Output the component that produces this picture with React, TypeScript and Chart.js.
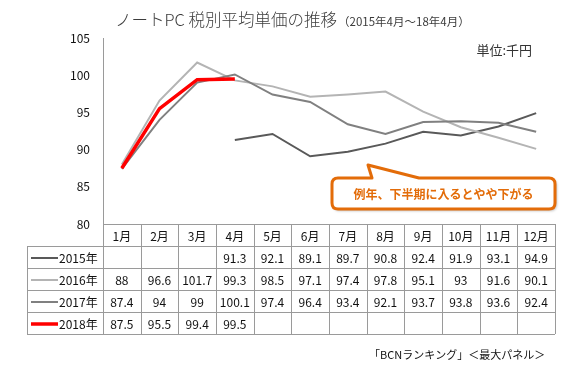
import React, { useEffect, useRef } from "react";
import { Chart, registerables } from "chart.js";
Chart.register(...registerables);

const months = ["1月", "2月", "3月", "4月", "5月", "6月", "7月", "8月", "9月", "10月", "11月", "12月"];
const yearLabels = ["2015年", "2016年", "2017年", "2018年"];
const s2015 = [null, null, null, 91.3, 92.1, 89.1, 89.7, 90.8, 92.4, 91.9, 93.1, 94.9];
const s2016 = [88, 96.6, 101.7, 99.3, 98.5, 97.1, 97.4, 97.8, 95.1, 93, 91.6, 90.1];
const s2017 = [87.4, 94, 99, 100.1, 97.4, 96.4, 93.4, 92.1, 93.7, 93.8, 93.6, 92.4];
const s2018 = [87.5, 95.5, 99.4, 99.5, null, null, null, null, null, null, null, null];
const yMin = 80;
const yMax = 105;
const yStep = 5;
const titleText = "ノートPC 税別平均単価の推移";
const subtitleText = "（2015年4月～18年4月）";
const unitText = "単位:千円";
const noteText = "例年、下半期に入るとやや下がる";
const sourceText = "「BCNランキング」＜最大パネル＞";

const FONT = '"Noto Sans CJK JP", "Noto Sans", sans-serif';
const colors = ["#595959", "#b4b4b4", "#808080", "#ff0000"];
const widths = [2, 2, 2, 3.5];
const series = [s2015, s2016, s2017, s2018];

const overlay = {
  id: "overlay",
  afterDraw(chart: any) {
    const ctx = chart.ctx as CanvasRenderingContext2D;
    const xs = chart.scales.x;
    const area = chart.chartArea;
    ctx.save();
    // title
    ctx.fillStyle = "#3c3c3c";
    ctx.textBaseline = "alphabetic";
    ctx.textAlign = "left";
    ctx.font = `300 16.5px ${FONT}`;
    const tx = 115;
    ctx.fillText(titleText, tx, 26);
    const tw = ctx.measureText(titleText).width;
    ctx.font = `11.5px ${FONT}`;
    ctx.fillText(subtitleText, tx + tw + 1, 26);
    // unit
    ctx.fillStyle = "#333";
    ctx.font = `13px ${FONT}`;
    ctx.textAlign = "right";
    ctx.fillText(unitText, 532, 55);

    // table
    const n = months.length;
    const colW = (xs.right - xs.left) / n;
    const top = area.bottom;
    const rowH = 22;
    const labelLeft = 27;
    const left = xs.left;
    const right = xs.right;
    ctx.strokeStyle = "#9a9a9a";
    ctx.lineWidth = 1;
    ctx.beginPath();
    ctx.moveTo(left, top + 0.5);
    ctx.lineTo(right, top + 0.5);
    for (let r = 1; r <= 5; r++) {
      const y = Math.round(top + r * rowH) + 0.5;
      ctx.moveTo(labelLeft, y);
      ctx.lineTo(right, y);
    }
    for (let c = 0; c <= n; c++) {
      const x = Math.round(xs.getPixelForValue(c) - colW / 2) + 0.5;
      ctx.moveTo(x, top);
      ctx.lineTo(x, top + 5 * rowH);
    }
    ctx.moveTo(labelLeft + 0.5, top + rowH);
    ctx.lineTo(labelLeft + 0.5, top + 5 * rowH);
    ctx.stroke();

    ctx.fillStyle = "#111";
    ctx.font = `12px ${FONT}`;
    ctx.textAlign = "center";
    ctx.textBaseline = "middle";
    months.forEach((m, i) => {
      ctx.fillText(m, xs.getPixelForValue(i), top + rowH / 2 + 1);
    });
    series.forEach((s, r) => {
      const cy = top + rowH * (r + 1) + rowH / 2 + 1;
      ctx.textAlign = "center";
      s.forEach((v, i) => {
        if (v !== null) ctx.fillText(String(v), xs.getPixelForValue(i), cy);
      });
      ctx.strokeStyle = colors[r];
      ctx.lineWidth = widths[r];
      ctx.beginPath();
      ctx.moveTo(31, cy);
      ctx.lineTo(58, cy);
      ctx.stroke();
      ctx.textAlign = "left";
      ctx.fillText(yearLabels[r], 59, cy);
    });

    // callout
    const bx = 332, by = 178, bw = 223, bh = 31, rad = 6;
    ctx.save();
    ctx.shadowColor = "rgba(0,0,0,0.35)";
    ctx.shadowBlur = 3;
    ctx.shadowOffsetX = 1.5;
    ctx.shadowOffsetY = 1.5;
    ctx.beginPath();
    ctx.moveTo(bx + rad, by);
    ctx.lineTo(372, by);
    ctx.lineTo(368, 165);
    ctx.lineTo(419, by);
    ctx.lineTo(bx + bw - rad, by);
    ctx.quadraticCurveTo(bx + bw, by, bx + bw, by + rad);
    ctx.lineTo(bx + bw, by + bh - rad);
    ctx.quadraticCurveTo(bx + bw, by + bh, bx + bw - rad, by + bh);
    ctx.lineTo(bx + rad, by + bh);
    ctx.quadraticCurveTo(bx, by + bh, bx, by + bh - rad);
    ctx.lineTo(bx, by + rad);
    ctx.quadraticCurveTo(bx, by, bx + rad, by);
    ctx.closePath();
    ctx.fillStyle = "#ffffff";
    ctx.fill();
    ctx.restore();
    ctx.strokeStyle = "#e36c09";
    ctx.lineWidth = 3;
    ctx.lineJoin = "round";
    ctx.stroke();
    ctx.fillStyle = "#e36c09";
    ctx.font = `bold 12px ${FONT}`;
    ctx.textAlign = "center";
    ctx.textBaseline = "middle";
    ctx.fillText(noteText, bx + bw / 2, by + bh / 2 + 1);

    // source
    ctx.fillStyle = "#111";
    ctx.font = `11px ${FONT}`;
    ctx.textAlign = "left";
    ctx.fillText(sourceText, 369, 355);
    ctx.restore();
  },
};

export default function App() {
  const ref = useRef<HTMLCanvasElement>(null);
  useEffect(() => {
    document.body.style.margin = "0";
    const chart = new Chart(ref.current as HTMLCanvasElement, {
      type: "line",
      data: {
        labels: months,
        datasets: series.map((s, i) => ({
          label: yearLabels[i],
          data: s,
          borderColor: colors[i],
          backgroundColor: colors[i],
          borderWidth: widths[i],
          pointRadius: 0,
          tension: 0,
          spanGaps: false,
          order: 3 - i,
        })),
      },
      options: {
        responsive: false,
        animation: false,
        layout: { padding: { left: 0, top: 38, right: 17, bottom: 0 } },
        plugins: { legend: { display: false }, tooltip: { enabled: false }, title: { display: false } },
        scales: {
          x: {
            offset: true,
            grid: { display: false },
            border: { display: false },
            ticks: { display: false },
            afterFit: (s: any) => {
              s.height = 141;
            },
          },
          y: {
            min: yMin,
            max: yMax,
            grid: { display: false, drawTicks: false },
            border: { display: true, color: "#9a9a9a", width: 1 },
            ticks: {
              stepSize: yStep,
              color: "#111",
              padding: 13,
              font: { family: FONT, size: 12 },
            },
            afterFit: (s: any) => {
              s.width = 103;
            },
          },
        },
      },
      plugins: [overlay],
    });
    return () => chart.destroy();
  }, []);
  return (
    <div style={{ position: "absolute", left: 0, top: 0, width: 572, height: 365, background: "#fff" }}>
      <canvas ref={ref} width={572} height={365} />
    </div>
  );
}
